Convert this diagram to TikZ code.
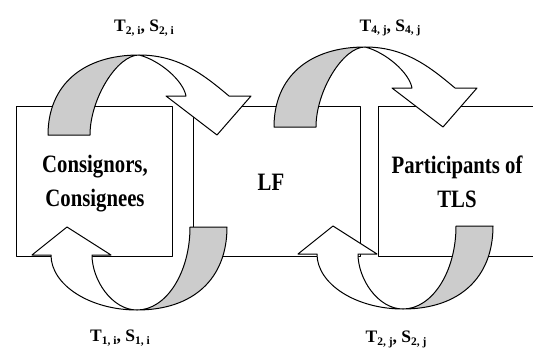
\documentclass[tikz,border=0pt]{standalone}
\usepackage{fontspec}
\setmainfont{Liberation Serif}
\definecolor{tailgray}{RGB}{204,204,204}
\newcommand\subx[1]{\raisebox{-2.5pt}{\fontsize{11.5}{12}\selectfont #1}}
% curved ribbon arrow, apex at origin (y grows downwards)
\newcommand\arrowTop{%
  \filldraw[fill=tailgray] (-91,80) .. controls (-91,30) and (-56,0) .. (0,0)
     .. controls (-22,0) and (-49,44) .. (-49,80) -- cycle;
  \filldraw[fill=white] (0,0) .. controls (40,0) and (65,20) .. (90,41)
     -- (112,41) -- (78,80) -- (27,41) -- (47,41)
     .. controls (44,25) and (20,5) .. (0,0) -- cycle;}
\newcommand\arrowBot{%
  \filldraw[fill=tailgray] (-90,83) .. controls (-90,31) and (-56,0) .. (0,0)
     .. controls (-29,0) and (-53,37) .. (-53,83) -- cycle;
  \filldraw[fill=white] (0,0) .. controls (47,0) and (86,25) .. (86,55)
     -- (105,55) -- (70,83) -- (26,55) -- (45,55)
     .. controls (45,30) and (25,0) .. (0,0) -- cycle;}
\begin{document}
\begin{tikzpicture}[x=1pt,y=-1pt,line width=1pt,line join=round,
  boxnode/.style={draw,rectangle,inner sep=0pt},
  boxtext/.style={font={\bfseries\fontsize{25pt}{34.4pt}\selectfont},align=center,inner sep=0pt,xscale=0.83,transform shape},
  lbl/.style={font={\bfseries\fontsize{17.5pt}{20pt}\selectfont},anchor=base,inner sep=0pt}]
\useasboundingbox (0,0) rectangle (533,356);
\clip (0,0) rectangle (533,356);
% boxes
\node[boxnode,minimum width=156pt,minimum height=150pt] (cons) at (94,181) {};
\node[boxnode,minimum width=167pt,minimum height=150.5pt] (lf) at (276.5,181.25) {};
\node[boxnode,minimum width=181.5pt,minimum height=150.5pt] (tls) at (469.25,181.25) {};
% arrows
\begin{scope}[shift={(139,55)}]\arrowTop\end{scope}
\begin{scope}[shift={(365,47)}]\arrowTop\end{scope}
\begin{scope}[shift={(137,310)},rotate=180]\arrowBot\end{scope}
\begin{scope}[shift={(403,309)},rotate=180]\arrowBot\end{scope}
% texts
\node[boxtext] (tcons) at (95,183.5) {Consignors,\\Consignees};
\node[boxtext,anchor=base] (tlf) at (271,190) {LF};
\node[boxtext] (ttls) at (457,182) {Participants of\\TLS};
% labels
\node[lbl] (l1) at (144,31.7) {T\subx{2, i}, S\subx{2, i}};
\node[lbl] (l2) at (390,31) {T\subx{4, j}, S\subx{4, j}};
\node[lbl] (l3) at (120,341.7) {T\subx{1, i}, S\subx{1, i}};
\node[lbl] (l4) at (396,342.5) {T\subx{2, j}, S\subx{2, j}};
\end{tikzpicture}
\end{document}
